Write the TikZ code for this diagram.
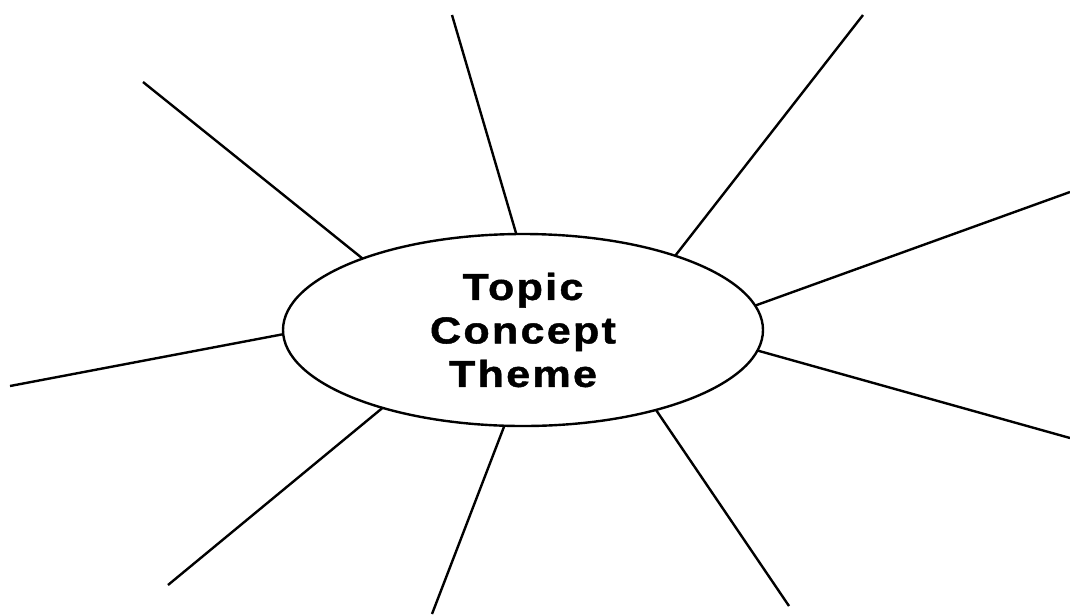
\documentclass[tikz,border=0pt]{standalone}
\usepackage{fontspec}
\newfontfamily\topicfont[LetterSpace=6, FakeStretch=1.15, FakeBold=1.2]{Liberation Sans}
\usetikzlibrary{shapes.geometric}

\begin{document}
\begin{tikzpicture}[
      x=1pt, y=-1pt,
      topicnode/.style={ellipse, draw, line width=2.4pt, inner sep=0pt, outer sep=0pt,
        minimum width=480pt, minimum height=192pt, align=center,
        font=\topicfont\bfseries\fontsize{37.5}{43.5}\selectfont},
      spoke/.style={line width=2.4pt}
    ]
    \useasboundingbox (0,0) rectangle (1070,614);
    \node[topicnode] (topic) at (523,330) {Topic\\Concept\\Theme};

    % free ends of the spokes
    \coordinate (s1) at (143,82);
    \coordinate (s2) at (452,15);
    \coordinate (s3) at (863,15);
    \coordinate (s4) at (1070,192);
    \coordinate (s5) at (1070,438);
    \coordinate (s6) at (789,606);
    \coordinate (s7) at (432,614);
    \coordinate (s8) at (168,585);
    \coordinate (s9) at (10,386);

    \draw[spoke] (topic.156.8) -- (s1);
    \draw[spoke] (topic.94.1) -- (s2);
    \draw[spoke] (topic.26.7) -- (s3);
    \draw[spoke] (topic.6.6) -- (s4);
    \draw[spoke] (topic.-5.5) -- (s5);
    \draw[spoke] (topic.-31.7) -- (s6);
    \draw[spoke] (topic.259.7) -- (s7);
    \draw[spoke] (topic.209.9) -- (s8);
    \draw[spoke] (topic.181.4) -- (s9);
  \end{tikzpicture}
\end{document}
